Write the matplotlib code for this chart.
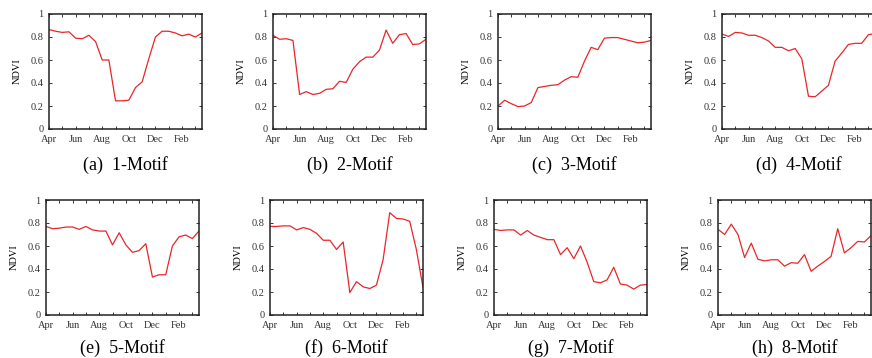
import numpy as np
import matplotlib
matplotlib.use('Agg')
import matplotlib.pyplot as plt

plt.rcParams['font.family'] = ['Liberation Serif', 'DejaVu Serif']

# mois (pas d'un demi-mois, Apr -> fin Mar)
months = ['Apr', '', 'Jun', '', 'Aug', '', 'Oct', '', 'Dec', '', 'Feb', '']
t = np.arange(24) * 0.5

ndvi_1 = [0.865, 0.85, 0.84, 0.845, 0.79, 0.785, 0.815, 0.76, 0.60, 0.60, 0.245, 0.245,
          0.25, 0.36, 0.41, 0.61, 0.80, 0.85, 0.85, 0.835, 0.81, 0.825, 0.80, 0.835]
ndvi_2 = [0.815, 0.78, 0.785, 0.77, 0.30, 0.325, 0.30, 0.31, 0.345, 0.35, 0.415, 0.405,
          0.52, 0.585, 0.625, 0.625, 0.685, 0.86, 0.745, 0.82, 0.83, 0.735, 0.74, 0.78]
ndvi_3 = [0.20, 0.25, 0.22, 0.195, 0.20, 0.23, 0.36, 0.37, 0.38, 0.385, 0.425, 0.455,
          0.45, 0.59, 0.71, 0.69, 0.79, 0.795, 0.795, 0.78, 0.765, 0.75, 0.755, 0.77]
ndvi_4 = [0.825, 0.805, 0.84, 0.835, 0.815, 0.815, 0.795, 0.765, 0.71, 0.71, 0.68, 0.70,
          0.61, 0.285, 0.28, 0.33, 0.38, 0.59, 0.66, 0.735, 0.745, 0.745, 0.82, 0.83]
ndvi_5 = [0.77, 0.75, 0.755, 0.765, 0.765, 0.745, 0.77, 0.74, 0.73, 0.73, 0.61, 0.715,
          0.61, 0.545, 0.56, 0.62, 0.33, 0.35, 0.35, 0.60, 0.68, 0.695, 0.665, 0.73]
ndvi_6 = [0.77, 0.77, 0.775, 0.775, 0.74, 0.76, 0.745, 0.71, 0.65, 0.65, 0.57, 0.635,
          0.195, 0.29, 0.245, 0.23, 0.26, 0.48, 0.89, 0.84, 0.835, 0.815, 0.57, 0.24]
ndvi_7 = [0.745, 0.735, 0.74, 0.74, 0.695, 0.735, 0.695, 0.675, 0.655, 0.655, 0.525, 0.585,
          0.49, 0.60, 0.46, 0.29, 0.28, 0.305, 0.415, 0.27, 0.26, 0.225, 0.26, 0.265]
ndvi_8 = [0.745, 0.70, 0.79, 0.70, 0.50, 0.625, 0.485, 0.47, 0.48, 0.48, 0.425, 0.455,
          0.45, 0.525, 0.38, 0.425, 0.465, 0.51, 0.75, 0.54, 0.585, 0.64, 0.635, 0.69]

series = [ndvi_1, ndvi_2, ndvi_3, ndvi_4, ndvi_5, ndvi_6, ndvi_7, ndvi_8]
captions = ['(a)  1-Motif', '(b)  2-Motif', '(c)  3-Motif', '(d)  4-Motif',
            '(e)  5-Motif', '(f)  6-Motif', '(g)  7-Motif', '(h)  8-Motif']

W, H = 872, 358
fig = plt.figure(figsize=(W / 100, H / 100), dpi=100)

# positions des axes en pixels (gauche, haut, largeur, hauteur)
lefts = [[49, 273, 498, 722], [46, 270, 494, 718]]
tops = [14, 200]
cap_y = [165, 348]
aw, ah = 153, 115

k = 0
for r in range(2):
    for c in range(4):
        x0, y0 = lefts[r][c], tops[r]
        ax = fig.add_axes([x0 / W, 1 - (y0 + ah) / H, aw / W, ah / H])
        ax.plot(t, series[k], color='#e8262a', lw=0.9)
        ax.set_xlim(0, 11.5)
        ax.set_ylim(0, 1)
        ax.set_xticks(np.arange(12))
        ax.set_xticklabels(months)
        ax.set_yticks([0, 0.2, 0.4, 0.6, 0.8, 1])
        ax.set_yticklabels(['0', '0.2', '0.4', '0.6', '0.8', '1'])
        ax.tick_params(direction='in', top=True, right=True, length=2.5, width=0.7,
                       labelsize=7.5, colors='#333333')
        ax.tick_params(axis='x', pad=4)
        ax.tick_params(axis='y', pad=4)
        for s in ax.spines.values():
            s.set_linewidth(1.1)
            s.set_color('#222222')
        ax.set_ylabel('NDVI', fontsize=7.5, labelpad=6)
        fig.text((x0 + aw / 2) / W, 1 - cap_y[r] / H, captions[k],
                 ha='center', va='center', fontsize=13)
        k += 1

plt.savefig('out.png', dpi=100)
